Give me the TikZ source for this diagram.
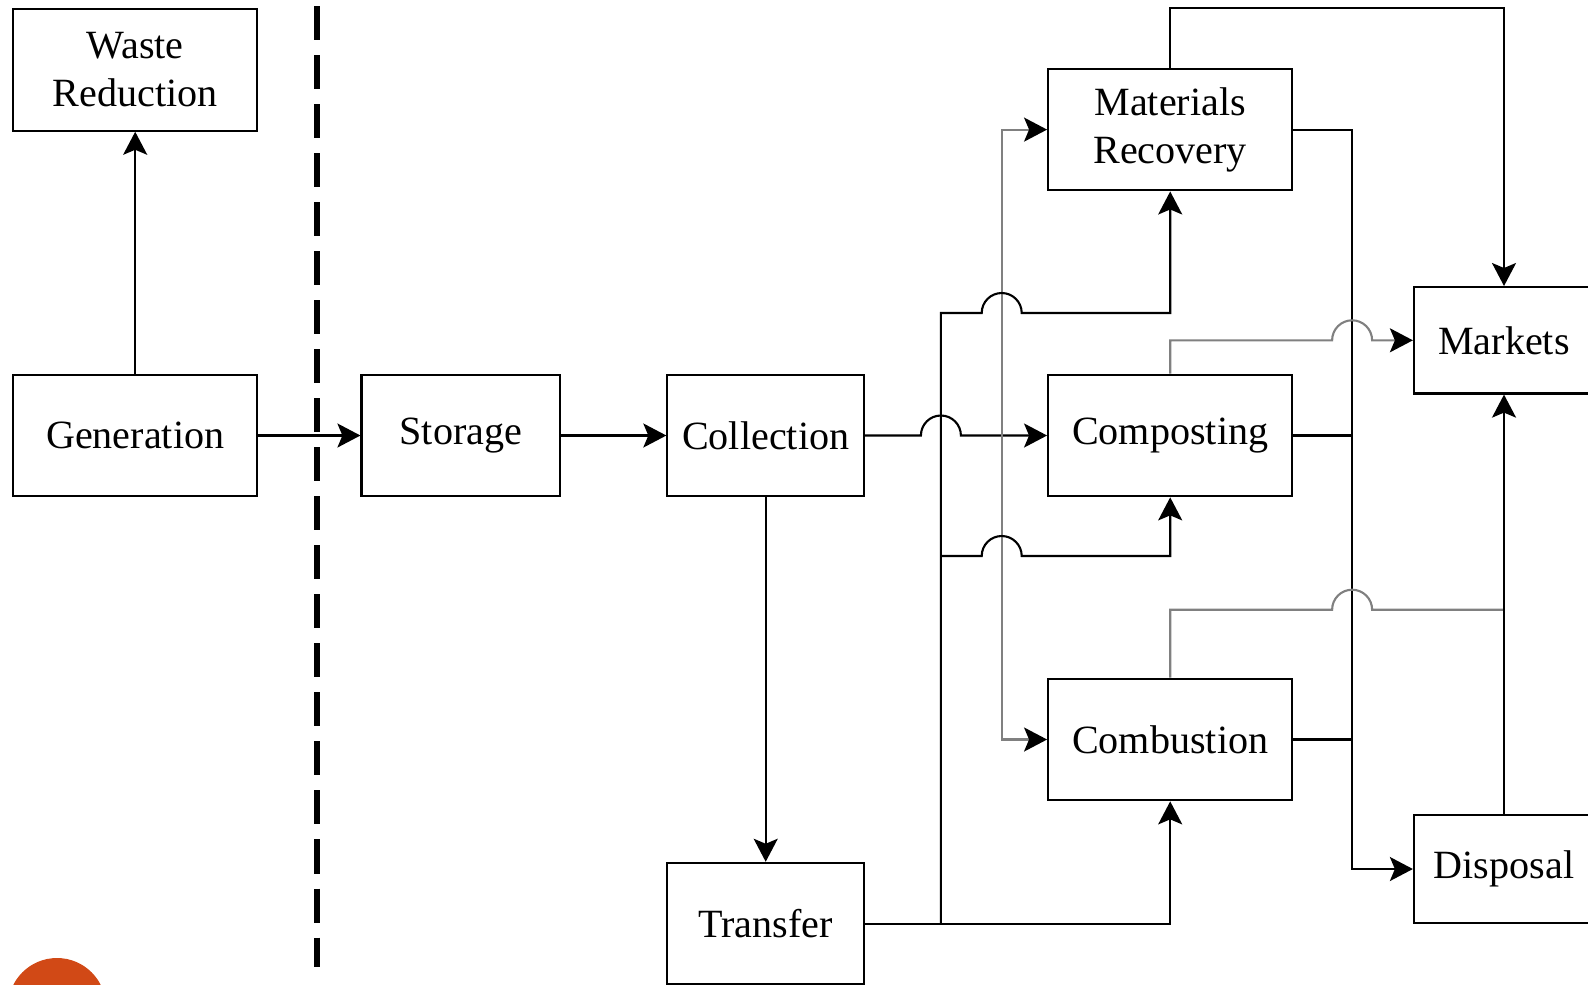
\documentclass[tikz,border=0pt]{standalone}
\usepackage{fontspec}
\setmainfont{Liberation Serif}
\usetikzlibrary{arrows.meta}
\definecolor{flowgray}{RGB}{128,128,128}
\definecolor{dotorange}{RGB}{209,73,22}

\begin{document}
\begin{tikzpicture}[x=0.01cm, y=-0.01cm,
    stage/.style={draw, line width=0.6pt, minimum width=2.44cm, minimum height=1.215cm,
        inner sep=0pt, align=center, font=\fontsize{11.4}{13.65}\selectfont},
    link/.style={line width=0.6pt},
    flow/.style={link, -{Stealth[length=0.23cm, width=0.24cm, inset=0.05cm, color=black]}},
    faint/.style={draw=flowgray}]
    \useasboundingbox (0,0) rectangle (1588,984);

    % Boxes
    \node[stage] (wred) at (135.2,69.9) {Waste\\Reduction};
    \node[stage] (gen) at (135.2,435.5) {Generation};
    \node[stage, minimum width=1.985cm] (stor) at (460.8,435.5) {Storage};
    \node[stage, minimum width=1.965cm] (coll) at (765.7,435.5) {Collection};
    \node[stage, minimum width=1.965cm] (trans) at (765.7,923.6) {Transfer};
    \node[stage] (mat) at (1170.2,129.6) {Materials\\Recovery};
    \node[stage] (comp) at (1170.2,435.5) {Composting};
    \node[stage] (comb) at (1170.2,739.5) {Combustion};
    \node[stage, minimum width=1.8cm, minimum height=1.064cm] (mark) at (1504,340.3) {Markets};
    \node[stage, minimum width=1.8cm, minimum height=1.074cm] (disp) at (1504,869) {Disposal};

    % Dashed boundary and corner dot
    \draw[line width=1.7pt, dash pattern=on 0.34cm off 0.15cm] (317,6) -- (317,967);
    \fill[dotorange] (57,1007) circle (49);

    % Left chain
    \draw[flow] (gen) -- (wred);
    \draw[flow] (gen) -- (stor);
    \draw[flow] (stor) -- (coll);
    \draw[flow] (coll) -- (trans);

    % Collection to processing
    \coordinate (split) at (1001.7,435.5);
    \draw[flow] (coll.east) -- (920.9,435.5) arc[start angle=180, end angle=360, radius=20] -- (comp.west);
    \draw[flow, faint] (split) |- (mat.west);
    \draw[flow, faint] (split) |- (comb.west);

    % Transfer to processing
    \coordinate (tbus) at (940.9,923.6);
    \draw[flow] (trans.east) -| (comb.south);
    \draw[flow] (tbus) |- (981.7,313) arc[start angle=180, end angle=360, radius=20] -| (mat.south);
    \draw[flow] (940.9,556) -- (981.7,556) arc[start angle=180, end angle=360, radius=20] -| (comp.south);

    % To disposal
    \coordinate (dbus) at (1352.1,129.6);
    \draw[flow] (mat.east) -- (dbus) |- (disp.west);
    \foreach \n in {comp, comb} {
        \draw[link] (\n.east) -- (\n.east -| dbus);
    }

    % To markets
    \draw[flow] (mat.north) -- ++(0,-59.8) -| (mark.north);
    \draw[flow, faint] (comp.north) |- (1332.1,340.3) arc[start angle=180, end angle=360, radius=20] -- (mark.west);
    \draw[link, faint] (comb.north) |- (1332.1,609.7) arc[start angle=180, end angle=360, radius=20] -- (1504,609.7);
    \draw[flow] (disp) -- (mark);
\end{tikzpicture}
\end{document}
